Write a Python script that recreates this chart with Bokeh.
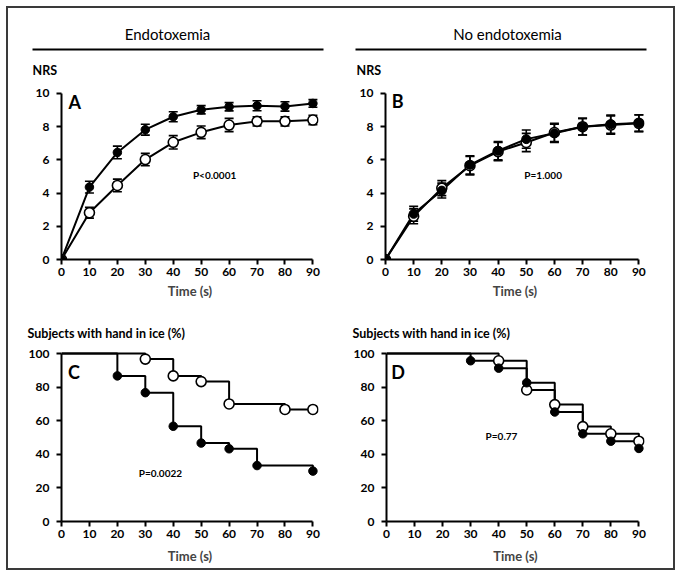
from bokeh.plotting import figure
from bokeh.models import Range1d, Label, Whisker, ColumnDataSource, FixedTicker, TeeHead
from bokeh.layouts import column, row
from bokeh.embed import file_html
from bokeh.resources import INLINE

FONT = "Lato"

# ---------------- data ----------------
time_nrs = [0, 10, 20, 30, 40, 50, 60, 70, 80, 90]

# Panel A (Endotoxemia) NRS
a_filled = [0, 4.36, 6.45, 7.82, 8.6, 9.02, 9.2, 9.26, 9.22, 9.4]
a_filled_err = [0, 0.35, 0.38, 0.33, 0.3, 0.25, 0.25, 0.3, 0.28, 0.23]
a_open = [0, 2.82, 4.46, 6.02, 7.06, 7.66, 8.1, 8.32, 8.32, 8.4]
a_open_err = [0, 0.33, 0.38, 0.37, 0.4, 0.38, 0.4, 0.28, 0.28, 0.28]

# Panel B (No endotoxemia) NRS
b_filled = [0, 2.75, 4.15, 5.7, 6.55, 7.25, 7.6, 8.0, 8.15, 8.22]
b_filled_err = [0, 0.45, 0.45, 0.55, 0.55, 0.55, 0.55, 0.5, 0.55, 0.5]
b_open = [0, 2.6, 4.3, 5.65, 6.5, 7.05, 7.65, 8.0, 8.1, 8.2]
b_open_err = [0, 0.45, 0.45, 0.55, 0.55, 0.55, 0.55, 0.5, 0.55, 0.5]

# Panel C (Endotoxemia) subjects with hand in ice (%)
c_filled_time = [0, 20, 30, 40, 50, 60, 70, 90]
c_filled_pct = [100, 86.7, 76.7, 56.7, 46.7, 43.3, 33.3, 30.0]
c_open_time = [0, 30, 40, 50, 60, 80, 90]
c_open_pct = [100, 96.7, 86.7, 83.3, 70.0, 66.7, 66.7]

# Panel D (No endotoxemia) subjects with hand in ice (%)
d_filled_time = [0, 30, 40, 50, 60, 70, 80, 90]
d_filled_pct = [100, 95.7, 91.3, 82.6, 65.2, 52.2, 47.8, 43.5]
d_open_time = [0, 40, 50, 60, 70, 80, 90]
d_open_pct = [100, 95.7, 78.3, 69.6, 56.5, 52.2, 47.8]

x_ticks = [0, 10, 20, 30, 40, 50, 60, 70, 80, 90]
nrs_ticks = [0, 2, 4, 6, 8, 10]
pct_ticks = [0, 20, 40, 60, 80, 100]

header_titles = ["Endotoxemia", "No endotoxemia"]
y_titles = ["NRS", "Subjects with hand in ice (%)"]
p_values = ["P<0.0001", "P=1.000", "P=0.0022", "P=0.77"]

W = 665


def make_panel(width, height, mbl, mbr, mbt, mbb, xr, yr, yticks, ybounds, lbl_standoff):
    p = figure(width=width, height=height, x_range=Range1d(*xr), y_range=Range1d(*yr),
               output_backend="svg", toolbar_location=None,
               min_border_left=mbl, min_border_right=mbr,
               min_border_top=mbt, min_border_bottom=mbb)
    p.outline_line_color = None
    p.grid.visible = False
    p.background_fill_color = "white"
    p.border_fill_color = "white"
    for ax in (p.xaxis[0], p.yaxis[0]):
        ax.axis_line_width = 2
        ax.axis_line_color = "black"
        ax.major_tick_line_width = 2
        ax.major_tick_line_color = "black"
        ax.major_tick_in = 0
        ax.major_tick_out = 5
        ax.minor_tick_line_color = None
        ax.major_label_text_font = FONT
        ax.major_label_text_font_style = "bold"
        ax.major_label_text_font_size = "12px"
        ax.major_label_text_color = "black"
    p.xaxis[0].ticker = FixedTicker(ticks=x_ticks)
    p.xaxis[0].bounds = (0, 90)
    p.xaxis[0].major_label_standoff = 3
    p.xaxis[0].axis_label = "Time (s)"
    p.xaxis[0].axis_label_text_font = FONT
    p.xaxis[0].axis_label_text_font_style = "bold"
    p.xaxis[0].axis_label_text_font_size = "13px"
    p.xaxis[0].axis_label_standoff = lbl_standoff
    p.yaxis[0].ticker = FixedTicker(ticks=yticks)
    p.yaxis[0].bounds = ybounds
    p.yaxis[0].major_label_standoff = 7
    return p


def make_strip(height):
    s = figure(width=W, height=height, x_range=Range1d(0, W), y_range=Range1d(0, height),
               output_backend="svg", toolbar_location=None, min_border=0,
               x_axis_location=None, y_axis_location=None)
    s.grid.visible = False
    s.outline_line_color = None
    return s


def add_label(p, x, y, text, size, align="left", style="bold"):
    p.add_layout(Label(x=x, y=y, text=text, text_align=align, text_baseline="middle",
                       text_font=FONT, text_font_style=style, text_font_size=size,
                       text_color="black"))


def add_errors(p, t, v, e):
    src = ColumnDataSource(dict(x=t[1:], upper=[a + b for a, b in zip(v[1:], e[1:])],
                                lower=[a - b for a, b in zip(v[1:], e[1:])]))
    p.add_layout(Whisker(source=src, base="x", upper="upper", lower="lower",
                         line_width=1.6, line_color="black",
                         upper_head=TeeHead(size=9, line_width=1.6, line_color="black"),
                         lower_head=TeeHead(size=9, line_width=1.6, line_color="black")))


# ---------------- header (titles, underlines, NRS) ----------------
hdr = make_strip(72)
hdr.segment(x0=[24, 347], y0=[31, 31], x1=[315, 638], y1=[31, 31],
            line_color="black", line_width=2)
add_label(hdr, 159, 47, header_titles[0], "15px", align="center", style="normal")
add_label(hdr, 499, 47, header_titles[1], "15px", align="center", style="normal")
add_label(hdr, 24, 10, y_titles[0], "12.5px")
add_label(hdr, 348, 10, y_titles[0], "12.5px")

# ---------------- Panel A ----------------
pa = make_panel(333, 226, 53, 23, 8, 47, (0, 92), (0, 10.3), nrs_ticks, (0, 10), 4)
add_errors(pa, time_nrs, a_open, a_open_err)
add_errors(pa, time_nrs, a_filled, a_filled_err)
pa.line(time_nrs, a_open, line_color="black", line_width=2)
pa.line(time_nrs, a_filled, line_color="black", line_width=2)
pa.scatter(time_nrs, a_open, size=10, marker="circle", fill_color="white",
           line_color="black", line_width=1.6)
pa.scatter(time_nrs, a_filled, size=8.5, marker="circle", fill_color="black",
           line_color="black")
add_label(pa, 2.5, 9.5, "A", "18px")
add_label(pa, 54.8, 5.1, p_values[0], "10px", align="center")

# ---------------- Panel B ----------------
pb = make_panel(332, 226, 44, 29, 8, 47, (0, 92), (0, 10.3), nrs_ticks, (0, 10), 4)
add_errors(pb, time_nrs, b_open, b_open_err)
add_errors(pb, time_nrs, b_filled, b_filled_err)
pb.line(time_nrs, b_open, line_color="black", line_width=2)
pb.line(time_nrs, b_filled, line_color="black", line_width=2)
pb.scatter(time_nrs, b_open, size=10, marker="circle", fill_color="white",
           line_color="black", line_width=1.6)
pb.scatter(time_nrs, b_filled, size=9, marker="circle", fill_color="black",
           line_color="black")
add_label(pb, 2.2, 9.55, "B", "18px")
add_label(pb, 56, 5.1, p_values[1], "10px", align="center")

# ---------------- strip with survival y titles ----------------
mid = make_strip(39)
add_label(mid, 19, 12, y_titles[1], "12.5px")
add_label(mid, 344, 12, y_titles[1], "12.5px")

# ---------------- Panel C ----------------
pc = make_panel(333, 223, 53, 23, 3, 47, (0, 92), (0, 103), pct_ticks, (0, 100), 7)
pc.step(c_open_time, c_open_pct, mode="after", line_color="black", line_width=2)
pc.step(c_filled_time, c_filled_pct, mode="after", line_color="black", line_width=2)
pc.scatter(c_open_time[1:], c_open_pct[1:], size=10, marker="circle", fill_color="white",
           line_color="black", line_width=1.6)
pc.scatter(c_filled_time[1:], c_filled_pct[1:], size=8.5, marker="circle",
           fill_color="black", line_color="black")
add_label(pc, 2.3, 89, "C", "18px")
add_label(pc, 35.4, 28.6, p_values[2], "10px", align="center")

# ---------------- Panel D ----------------
pd_ = make_panel(332, 223, 45, 29, 3, 47, (0, 92), (0, 103), pct_ticks, (0, 100), 7)
pd_.step(d_open_time, d_open_pct, mode="after", line_color="black", line_width=2)
pd_.step(d_filled_time, d_filled_pct, mode="after", line_color="black", line_width=2)
pd_.scatter(d_open_time[1:], d_open_pct[1:], size=10, marker="circle", fill_color="white",
            line_color="black", line_width=1.6)
pd_.scatter(d_filled_time[1:], d_filled_pct[1:], size=8.5, marker="circle",
            fill_color="black", line_color="black")
add_label(pd_, 1.7, 89, "D", "18px")
add_label(pd_, 41, 51.2, p_values[3], "10px", align="center")

layout = column(hdr, row(pa, pb), mid, row(pc, pd_),
                styles={"border": "2px solid #3a3a3a", "margin": "6px"})

with open("out.html", "w") as f:
    f.write(file_html(layout, INLINE))
